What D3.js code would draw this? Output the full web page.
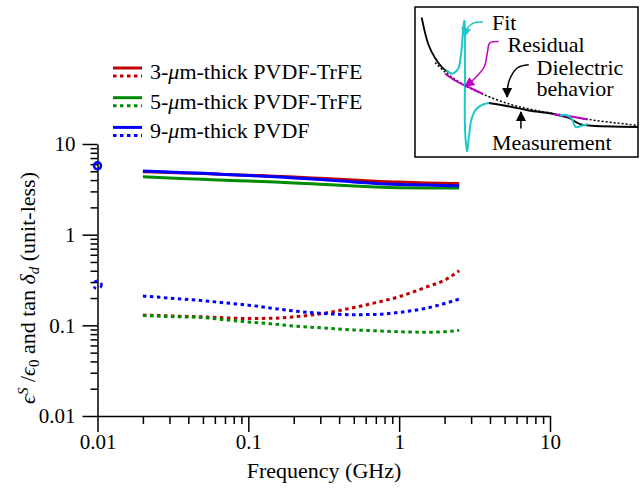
<!DOCTYPE html>
<html><head><meta charset="utf-8">
<script src="https://cdn.jsdelivr.net/npm/d3@7"></script>
</head>
<body style="margin:0"><svg id="c" width="640" height="493"></svg>
<script>
// ---- data ----
const freqs = [0.02,0.03,0.05,0.07,0.1,0.15,0.2,0.3,0.5,0.7,1,1.5,2,2.5];
const perm3um = [4.95,4.85,4.72,4.62,4.52,4.42,4.32,4.18,4.0,3.88,3.8,3.72,3.68,3.66];
const perm5um = [4.35,4.22,4.08,3.98,3.9,3.8,3.72,3.6,3.45,3.36,3.3,3.28,3.27,3.28];
const perm9um = [5.05,4.9,4.75,4.62,4.5,4.35,4.22,4.05,3.82,3.67,3.58,3.52,3.48,3.46];
const tan3um = [0.13,0.127,0.124,0.121,0.119,0.12,0.124,0.134,0.157,0.178,0.207,0.263,0.315,0.40];
const tan5um = [0.128,0.125,0.122,0.115,0.109,0.103,0.098,0.094,0.089,0.087,0.085,0.084,0.085,0.088];
const tan9um = [0.21,0.2,0.187,0.177,0.167,0.153,0.144,0.136,0.131,0.132,0.139,0.154,0.174,0.195];
const seriesNames = ["3-\u03bcm-thick PVDF-TrFE","5-\u03bcm-thick PVDF-TrFE","9-\u03bcm-thick PVDF"];
const seriesColors = ["#c00000","#008c00","#0000ff"];
const markerPerm9 = {f:0.01, v:5.75};
const markerTan9 = {f:0.01, v:0.28};
const xTickVals = [0.01,0.1,1,10];
const xTickLabels = ["0.01","0.1","1","10"];
const yTickVals = [0.01,0.1,1,10];
const yTickLabels = ["0.01","0.1","1","10"];

// inset illustration (local units: x 0..100, y 0..100)
const insetMeasA = [[3,7],[6,25],[9,34],[12,40],[14.5,43],[16,44]];
const insetFit = [[14,42],[16.5,44.5],[19,42],[20.5,33],[21.2,22],[21.6,15],[22,10],[22.4,40],[22.8,90],[23.3,96],[24.3,85],[25.5,74],[27.5,68],[30.5,65],[33,64]];
const insetMeasB = [[33,64],[43,66.5],[51,69],[61,71],[65,72.5],[69,74],[74,78],[78,79],[100,80]];
const insetFitBump = [[65,72.5],[68,72],[70.5,75],[72,80],[75,79],[77.5,78]];
const insetDiel = [[9,37],[14,44],[22,52],[31,58.5],[43,65],[53,68.5],[66,72],[78,75],[100,79]];
const insetResidA = [[13.5,44.5],[18,49],[22,52],[27,55.5],[30.5,58]];
const insetResidB = [[62,71.5],[70,73],[77.5,75]];
const arrowFit = [[30.5,10],[26.5,10.5],[23.5,14],[22.2,20]];
const arrowResid = [[37.5,23],[33.5,24],[32.5,30],[31,40],[26.5,48],[22.5,53]];
const arrowDiel = [[51,38.5],[46,40.5],[42.5,48],[41.5,54],[41.3,60]];
const arrowMeas = [[47.5,81],[47.5,70]];
const insetLabels = [
  {t:"Fit", x:34.5, y:15},
  {t:"Residual", x:41.5, y:30},
  {t:"Dielectric", x:54.5, y:45.5},
  {t:"behavior", x:54.5, y:59},
  {t:"Measurement", x:34.5, y:95}
];

// ---- chart ----
const FAM = "Tinos, 'Liberation Serif', FreeSerif, serif";
function fnt(sel, size, extra){ return sel.attr("style", `font: ${extra||""} ${size}px ${FAM}`); }
const svg = d3.select("#c");
const x = d3.scaleLog().domain([0.01,10]).range([97.5,550]);
const y = d3.scaleLog().domain([0.01,10]).range([416,144]);

const minor = [];
[0.01,0.1,1].forEach(d=>{for(let k=2;k<=9;k++) minor.push(d*k);});

const fontTick = 21;
const gx = svg.append("g").attr("transform",`translate(0,${y(0.01)})`);
gx.call(d3.axisBottom(x).tickValues(xTickVals).tickFormat((d,i)=>xTickLabels[i]).tickSize(16).tickSizeOuter(0).tickPadding(2));
const gxm = svg.append("g").attr("transform",`translate(0,${y(0.01)})`);
gxm.call(d3.axisBottom(x).tickValues(minor).tickFormat("").tickSize(8).tickSizeOuter(0));
const gy = svg.append("g").attr("transform",`translate(${x(0.01)},0)`);
gy.call(d3.axisLeft(y).tickValues(yTickVals).tickFormat((d,i)=>yTickLabels[i]).tickSize(15).tickSizeOuter(0).tickPadding(7));
const gym = svg.append("g").attr("transform",`translate(${x(0.01)},0)`);
gym.call(d3.axisLeft(y).tickValues(minor).tickFormat("").tickSize(7).tickSizeOuter(0));
[gx,gxm,gy,gym].forEach(g=>{
  g.attr("font-family",null).attr("font-size",null);
  g.selectAll("path,line").attr("stroke","#000").attr("stroke-width",1.5);
  fnt(g.selectAll("text"), fontTick).attr("fill","#000");
});
gxm.select("path").remove();
gym.select("path").remove();

// axis titles
fnt(svg.append("text").attr("x",324).attr("y",478).attr("text-anchor","middle"),22).text("Frequency (GHz)");
const yl = fnt(svg.append("text").attr("transform","translate(35,288) rotate(-90)").attr("text-anchor","middle"),22);
yl.append("tspan").attr("font-style","italic").text("\u03f5");
yl.append("tspan").attr("font-style","italic").attr("font-size",15).attr("baseline-shift","45%").text("S");
yl.append("tspan").text(" /");
yl.append("tspan").attr("font-style","italic").text("\u03f5");
yl.append("tspan").attr("font-size",15).attr("baseline-shift","-25%").text("0");
yl.append("tspan").text(" and tan ");
yl.append("tspan").attr("font-style","italic").text("\u03b4");
yl.append("tspan").attr("font-style","italic").attr("font-size",15).attr("baseline-shift","-25%").text("d");
yl.append("tspan").text(" (unit-less)");

// data lines
const line = d3.line().x(d=>x(d[0])).y(d=>y(d[1])).curve(d3.curveMonotoneX);
const perms = [perm3um,perm5um,perm9um];
const tans = [tan3um,tan5um,tan9um];
tans.forEach((vals,i)=>{
  svg.append("path").datum(freqs.map((f,j)=>[f,vals[j]]))
    .attr("d",line).attr("fill","none").attr("stroke",seriesColors[i])
    .attr("stroke-width",3).attr("stroke-dasharray","3.5,3.5");
});
perms.forEach((vals,i)=>{
  svg.append("path").datum(freqs.map((f,j)=>[f,vals[j]]))
    .attr("d",line).attr("fill","none").attr("stroke",seriesColors[i])
    .attr("stroke-width",3);
});
svg.append("circle").attr("cx",x(markerPerm9.f)).attr("cy",y(markerPerm9.v)).attr("r",3.5)
  .attr("fill","none").attr("stroke","#0000ff").attr("stroke-width",2.5);
svg.append("circle").attr("cx",x(markerTan9.f)).attr("cy",y(markerTan9.v)).attr("r",4)
  .attr("fill","none").attr("stroke","#0000ff").attr("stroke-width",2.5).attr("stroke-dasharray","3,4.5");

// legend
const leg = svg.append("g");
seriesNames.forEach((n,i)=>{
  const yy = 72 + i*29.7;
  leg.append("line").attr("x1",113).attr("x2",142).attr("y1",yy-4).attr("y2",yy-4)
    .attr("stroke",seriesColors[i]).attr("stroke-width",3);
  leg.append("line").attr("x1",113).attr("x2",142).attr("y1",yy+4).attr("y2",yy+4)
    .attr("stroke",seriesColors[i]).attr("stroke-width",3).attr("stroke-dasharray","3.5,3.5");
  const t = fnt(leg.append("text").attr("x",150).attr("y",yy+7),22);
  const parts = n.split("\u03bc");
  t.append("tspan").text(parts[0]);
  t.append("tspan").attr("font-style","italic").text("\u03bc");
  t.append("tspan").text(parts[1]);
});

// inset
const ix = d3.scaleLinear().domain([0,100]).range([415,638]);
const iy = d3.scaleLinear().domain([0,100]).range([7,157]);
const ins = svg.append("g");
ins.append("rect").attr("x",ix(0)).attr("y",iy(0)).attr("width",ix(100)-ix(0)).attr("height",iy(100)-iy(0))
  .attr("fill","#fff").attr("stroke","#000").attr("stroke-width",1.5);
const il = d3.line().x(d=>ix(d[0])).y(d=>iy(d[1])).curve(d3.curveCatmullRom);
const defs = svg.append("defs");
function mk(id,col){
  defs.append("marker").attr("id",id).attr("viewBox","0 0 10 10").attr("refX",9).attr("refY",5)
    .attr("markerWidth",10).attr("markerHeight",12).attr("markerUnits","userSpaceOnUse").attr("orient","auto")
    .append("path").attr("d","M0,0L10,5L0,10Z").attr("fill",col);
}
mk("ablack","#000"); mk("acyan","#1ec8c8"); mk("amag","#c000c0");
ins.append("path").datum(insetDiel).attr("d",il).attr("fill","none").attr("stroke","#000").attr("stroke-width",1.5).attr("stroke-dasharray","2,2");
ins.append("path").datum(insetMeasA).attr("d",il).attr("fill","none").attr("stroke","#000").attr("stroke-width",1.8);
ins.append("path").datum(insetMeasB).attr("d",il).attr("fill","none").attr("stroke","#000").attr("stroke-width",1.8);
ins.append("path").datum(insetResidA).attr("d",il).attr("fill","none").attr("stroke","#c000c0").attr("stroke-width",2);
ins.append("path").datum(insetResidB).attr("d",il).attr("fill","none").attr("stroke","#c000c0").attr("stroke-width",2);
ins.append("path").datum(insetFit).attr("d",d3.line().x(d=>ix(d[0])).y(d=>iy(d[1])).curve(d3.curveCatmullRom.alpha(0.9)))
  .attr("fill","none").attr("stroke","#1ec8c8").attr("stroke-width",2);
ins.append("path").datum(insetFitBump).attr("d",il).attr("fill","none").attr("stroke","#1ec8c8").attr("stroke-width",2);
ins.append("path").datum(arrowFit).attr("d",il).attr("fill","none").attr("stroke","#1ec8c8").attr("stroke-width",1.5).attr("marker-end","url(#acyan)");
ins.append("path").datum(arrowResid).attr("d",il).attr("fill","none").attr("stroke","#c000c0").attr("stroke-width",1.5).attr("marker-end","url(#amag)");
ins.append("path").datum(arrowDiel).attr("d",il).attr("fill","none").attr("stroke","#000").attr("stroke-width",1.5).attr("marker-end","url(#ablack)");
ins.append("path").datum(arrowMeas).attr("d",il).attr("fill","none").attr("stroke","#000").attr("stroke-width",1.5).attr("marker-end","url(#ablack)");
insetLabels.forEach(l=>{
  fnt(ins.append("text").attr("x",ix(l.x)).attr("y",iy(l.y)),22).text(l.t);
});
</script></body></html>
